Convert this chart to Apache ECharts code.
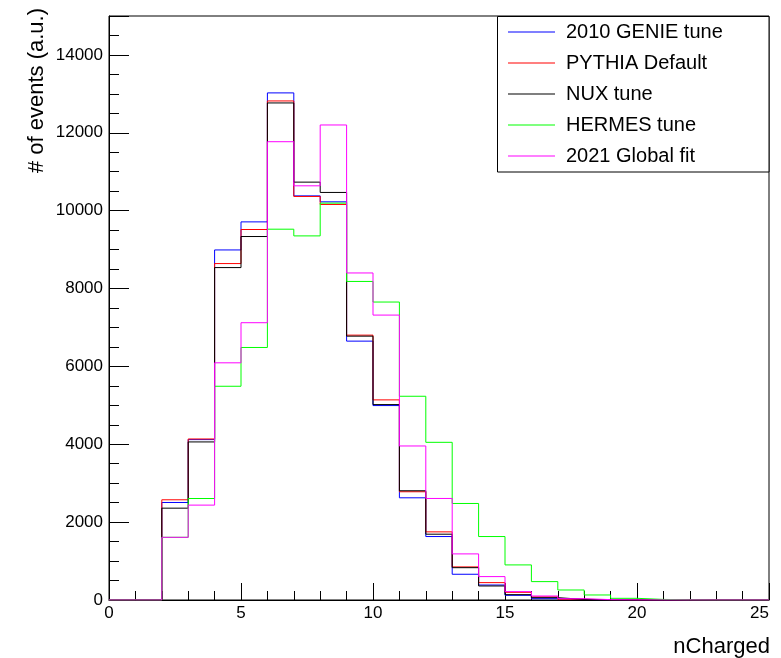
<!DOCTYPE html>
<html>
<head>
<meta charset="utf-8">
<title>nCharged</title>
<script src="https://cdn.jsdelivr.net/npm/echarts@6/dist/echarts.min.js"></script>
<style>
  html, body { margin: 0; padding: 0; background: #fff; }
  #chart { width: 781px; height: 658px; }
</style>
</head>
<body>
<div id="chart"></div>
<script>
// Histogram of charged-particle multiplicity, one bin per integer (0..25)
const binEdges = [0, 1, 2, 3, 4, 5, 6, 7, 8, 9, 10, 11, 12, 13, 14, 15, 16, 17, 18, 19, 20, 21, 22, 23, 24, 25];

const seriesNames = ['2010 GENIE tune', 'PYTHIA Default', 'NUX tune', 'HERMES tune', '2021 Global fit'];
const seriesColors = ['#0000ff', '#ff0000', '#000000', '#00ff00', '#ff00ff'];

const genie   = [0, 0, 2505, 4120, 8991, 9712, 13025, 10380, 10227, 6649, 4994, 2625, 1630, 661, 385, 120, 34, 15, 5, 0, 0, 0, 0, 0, 0];
const pythia  = [0, 0, 2574, 4136, 8641, 9516, 12818, 10365, 10159, 6803, 5140, 2780, 1750, 850, 446, 197, 80, 20, 5, 0, 0, 0, 0, 0, 0];
const nux     = [0, 0, 2359, 4060, 8538, 9336, 12767, 10733, 10468, 6777, 5019, 2806, 1690, 830, 360, 137, 60, 15, 5, 0, 0, 0, 0, 0, 0];
const hermes  = [0, 0, 1610, 2607, 5490, 6486, 9524, 9352, 10193, 8182, 7653, 5233, 4050, 2479, 1630, 901, 472, 257, 129, 43, 15, 5, 0, 0, 0];
const global  = [0, 0, 1610, 2437, 6092, 7122, 11771, 10638, 12201, 8400, 7318, 3956, 2608, 1184, 601, 215, 103, 34, 10, 3, 0, 0, 0, 0, 0];

const yTicks = [0, 2000, 4000, 6000, 8000, 10000, 12000, 14000];
const xTicks = [0, 5, 10, 15, 20, 25];

const allValues = [genie, pythia, nux, hermes, global];

// Turn bin contents into step points: left edge of each bin, plus the last right edge
function toSteps(values) {
  const pts = values.map((v, i) => [binEdges[i], v]);
  pts.push([binEdges[binEdges.length - 1], values[values.length - 1]]);
  return pts;
}

const FONT = '"Liberation Sans", Arial, sans-serif';
const chart = echarts.init(document.getElementById('chart'), null, { renderer: 'canvas' });

const yMax = 15000;
const yMajor = yTicks[1] - yTicks[0];
const xMajor = xTicks[1] - xTicks[0];

chart.setOption({
  animation: false,
  backgroundColor: '#ffffff',
  grid: {
    left: 109, right: 12, top: 16, bottom: 58,
    show: true, borderColor: '#000', borderWidth: 1, backgroundColor: 'transparent'
  },
  xAxis: {
    type: 'value',
    min: xTicks[0], max: xTicks[xTicks.length - 1], interval: xMajor,
    axisLine: { show: true, lineStyle: { color: '#000', width: 1 } },
    axisTick: { show: true, inside: true, length: 17, lineStyle: { color: '#000', width: 1 } },
    minorTick: { show: true, splitNumber: 5, length: 9, lineStyle: { color: '#000', width: 1 } },
    splitLine: { show: false },
    axisLabel: {
      margin: 5, color: '#000', fontFamily: FONT, fontSize: 17,
      alignMaxLabel: 'right'
    }
  },
  yAxis: [
    {
      type: 'value',
      min: 0, max: yMax, interval: yMajor,
      axisLine: { show: true, lineStyle: { color: '#000', width: 1 } },
      axisTick: { show: true, inside: true, length: 20, lineStyle: { color: '#000', width: 1 } },
      splitLine: { show: false },
      axisLabel: {
        margin: 6, color: '#000', fontFamily: FONT, fontSize: 17,
        formatter: v => (yTicks.indexOf(v) >= 0 ? String(v) : '')
      }
    },
    {
      type: 'value',
      position: 'left',
      min: 0, max: yMax, interval: yMajor / 4,
      axisLine: { show: false },
      axisTick: { show: true, inside: true, length: 10, lineStyle: { color: '#000', width: 1 } },
      splitLine: { show: false },
      axisLabel: { show: false }
    }
  ],
  legend: {
    show: true,
    orient: 'vertical',
    left: 508, top: 22,
    padding: 0,
    icon: 'rect',
    itemWidth: 47, itemHeight: 1, itemGap: 11,
    selectedMode: false,
    textStyle: { color: '#000', fontFamily: FONT, fontSize: 20, lineHeight: 20, padding: [0, 0, 0, 6] },
    data: seriesNames,
    z: 10
  },
  graphic: [
    {
      type: 'rect', z: 5,
      shape: { x: 497.5, y: 16.5, width: 271.5, height: 155.5 },
      style: { fill: '#fff', stroke: '#000', lineWidth: 1 }
    },
    {
      type: 'text', z: 6,
      x: 770, y: 647,
      style: { text: 'nCharged', fill: '#000', font: '22px ' + FONT, align: 'right', verticalAlign: 'middle' }
    },
    {
      type: 'text', z: 6,
      x: 37, y: 8, rotation: Math.PI / 2,
      style: { text: '# of events (a.u.)', fill: '#000', font: '22px ' + FONT, align: 'right', verticalAlign: 'middle' }
    }
  ],
  series: allValues.map((vals, i) => ({
    name: seriesNames[i],
    type: 'line',
    step: 'end',
    symbol: 'none',
    yAxisIndex: 0,
    data: toSteps(vals),
    color: seriesColors[i],
    lineStyle: { color: seriesColors[i], width: 1 },
    z: 2 + i
  }))
});
</script>
</body>
</html>
